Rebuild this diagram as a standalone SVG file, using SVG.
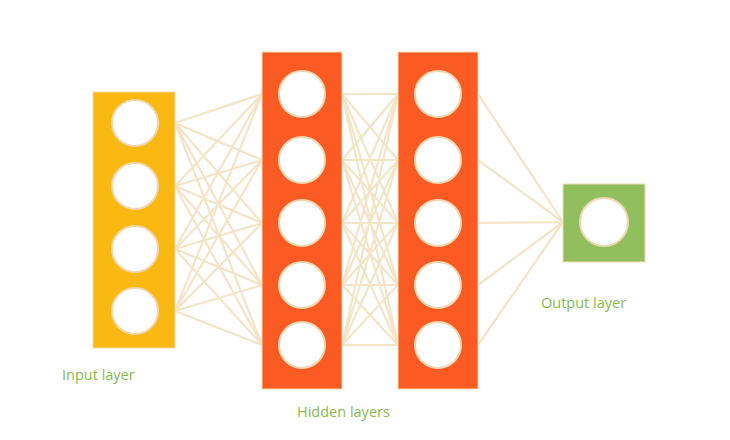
<svg xmlns="http://www.w3.org/2000/svg" width="730" height="440" viewBox="0 0 730 440">
<style>
.edge{stroke:#f1dcb6;stroke-width:2.2;fill:none;stroke-opacity:0.75}
.neuron{fill:#ffffff;stroke:#f0d8b0;stroke-width:2}
.lbl{font-family:"Open Sans","Liberation Sans",sans-serif;font-size:14.5px;fill:#86bb4e}
</style>
<rect width="730" height="440" fill="#ffffff"/>
<g id="connectors">
<path class="edge" d="M175 123L262 94M175 123L262 160M175 123L262 223M175 123L262 285M175 123L262 345
M175 186L262 94M175 186L262 160M175 186L262 223M175 186L262 285M175 186L262 345
M175 249L262 94M175 249L262 160M175 249L262 223M175 249L262 285M175 249L262 345
M175 311L262 94M175 311L262 160M175 311L262 223M175 311L262 285M175 311L262 345"/>
<path class="edge" d="M342 94L398 94M342 94L398 160M342 94L398 223M342 94L398 285M342 94L398 345
M342 160L398 94M342 160L398 160M342 160L398 223M342 160L398 285M342 160L398 345
M342 223L398 94M342 223L398 160M342 223L398 223M342 223L398 285M342 223L398 345
M342 285L398 94M342 285L398 160M342 285L398 223M342 285L398 285M342 285L398 345
M342 345L398 94M342 345L398 160M342 345L398 223M342 345L398 285M342 345L398 345"/>
<path class="edge" d="M478 94L563 222M478 160L563 222M478 223L563 222M478 285L563 222M478 345L563 222"/>
</g>
<g id="input-layer">
<rect x="93" y="92" width="82" height="256" fill="#f9b912" stroke="#f3dcb0" stroke-width="1"/>
<circle class="neuron" cx="135" cy="123" r="23"/>
<circle class="neuron" cx="135" cy="186" r="23"/>
<circle class="neuron" cx="135" cy="249" r="23"/>
<circle class="neuron" cx="135" cy="311" r="23"/>
</g>
<g id="hidden-layer-1">
<rect x="262" y="52" width="80" height="337" fill="#fb5a22" stroke="#f3dcb0" stroke-width="1"/>
<circle class="neuron" cx="302" cy="94" r="23"/>
<circle class="neuron" cx="302" cy="160" r="23"/>
<circle class="neuron" cx="302" cy="223" r="23"/>
<circle class="neuron" cx="302" cy="285" r="23"/>
<circle class="neuron" cx="302" cy="345" r="23"/>
</g>
<g id="hidden-layer-2">
<rect x="398" y="52" width="80" height="337" fill="#fb5a22" stroke="#f3dcb0" stroke-width="1"/>
<circle class="neuron" cx="438" cy="94" r="23"/>
<circle class="neuron" cx="438" cy="160" r="23"/>
<circle class="neuron" cx="438" cy="223" r="23"/>
<circle class="neuron" cx="438" cy="285" r="23"/>
<circle class="neuron" cx="438" cy="345" r="23"/>
</g>
<g id="output-layer">
<rect x="563" y="184" width="82" height="78" fill="#92bf5e" stroke="#f3dcb0" stroke-width="1"/>
<circle class="neuron" cx="604" cy="222" r="24"/>
</g>
<g id="labels">
<text class="lbl" x="62" y="380">Input layer</text>
<text class="lbl" x="297" y="417">Hidden layers</text>
<text class="lbl" x="541" y="308">Output layer</text>
</g>
</svg>
